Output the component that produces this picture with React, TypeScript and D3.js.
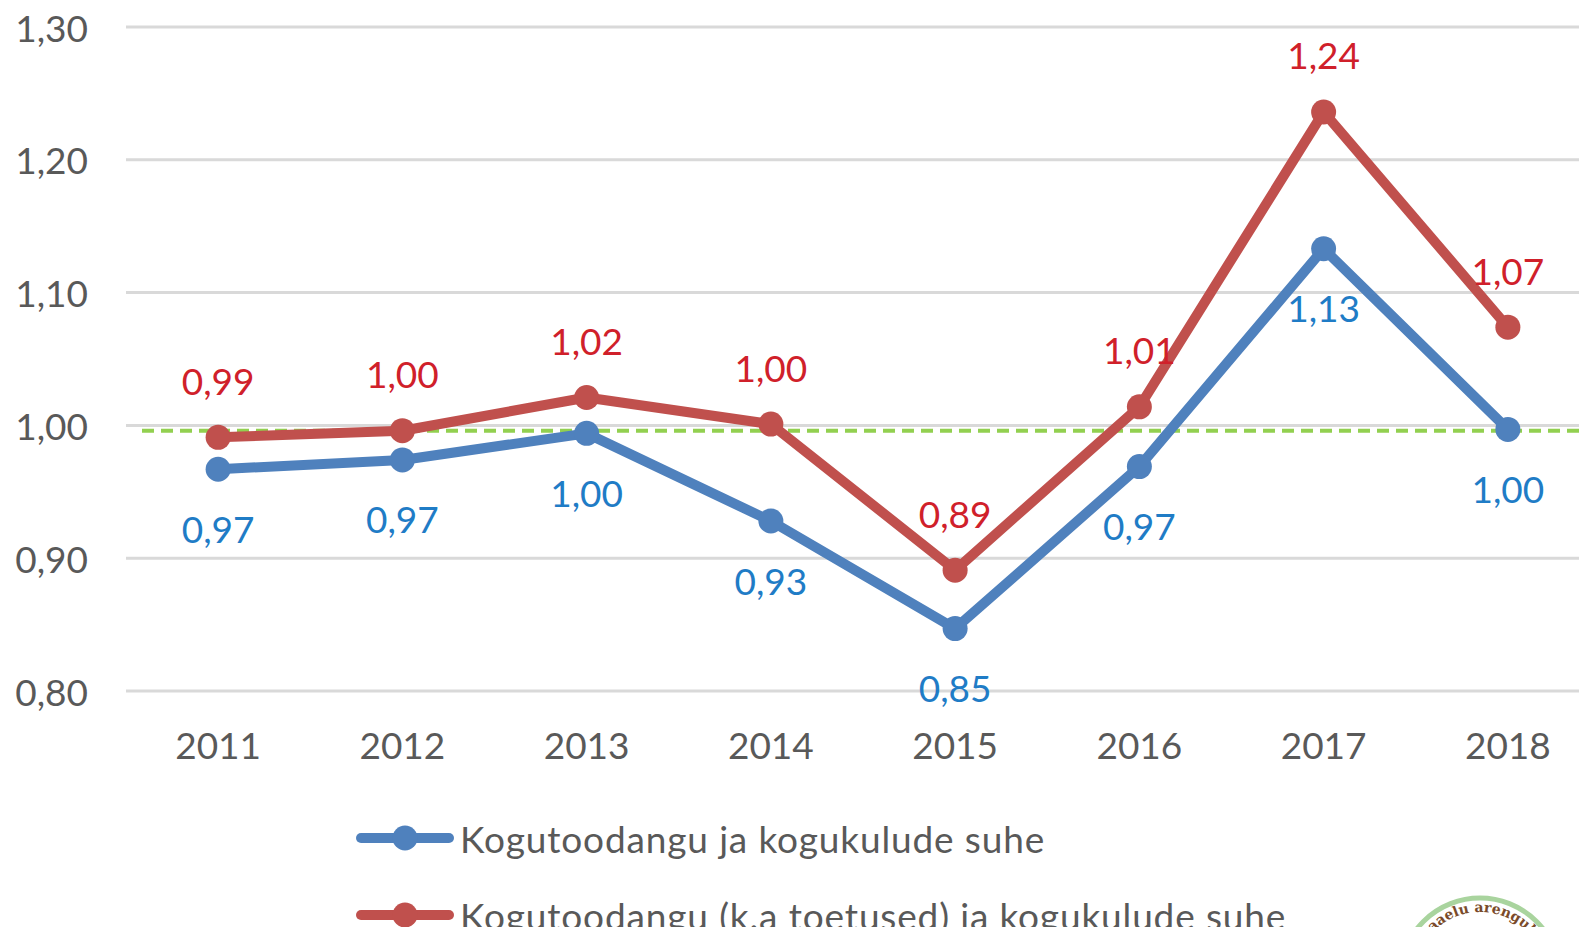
import React from "react";
import * as d3 from "d3";

const years = ["2011", "2012", "2013", "2014", "2015", "2016", "2017", "2018"];
const seriesBlue = [0.967, 0.974, 0.994, 0.928, 0.847, 0.969, 1.133, 0.997];
const seriesRed = [0.991, 0.996, 1.021, 1.001, 0.891, 1.014, 1.236, 1.074];
const labelsBlue = ["0,97", "0,97", "1,00", "0,93", "0,85", "0,97", "1,13", "1,00"];
const labelsRed = ["0,99", "1,00", "1,02", "1,00", "0,89", "1,01", "1,24", "1,07"];
const yTicks = [0.8, 0.9, 1.0, 1.1, 1.2, 1.3];
const yTickLabels = ["0,80", "0,90", "1,00", "1,10", "1,20", "1,30"];
const referenceValue = 0.996;
const legendNames = [
  "Kogutoodangu ja kogukulude suhe",
  "Kogutoodangu (k.a toetused) ja kogukulude suhe",
];

const W = 1587;
const H = 935;
const FONT = "Lato, 'Open Sans', sans-serif";
const BLUE = "#4F81BD";
const RED = "#C0504D";
const BLUE_TXT = "#1F7CC6";
const RED_TXT = "#D0202A";
const AXIS_TXT = "#595959";

export default function App() {
  const x = d3.scaleBand<string>().domain(years).range([126, 1600]);
  const y = d3.scaleLinear().domain([0.8, 1.3]).range([691, 27]);
  const cx = (yr: string) => (x(yr) as number) + x.bandwidth() / 2;
  const line = d3
    .line<number>()
    .x((_, i) => cx(years[i]))
    .y((d) => y(d));

  const series = [
    { vals: seriesBlue, labels: labelsBlue, color: BLUE, txt: BLUE_TXT, dy: 59 },
    { vals: seriesRed, labels: labelsRed, color: RED, txt: RED_TXT, dy: -57 },
  ];

  const logoCx = 1480;
  const logoCy = 978;
  const logoR = 80;
  const arcR = 66;
  const arcPath = d3.arc()({
    innerRadius: arcR,
    outerRadius: arcR,
    startAngle: -1.2,
    endAngle: 1.2,
  } as any) as string;

  return (
    <div style={{ margin: -8 }}>
      <svg width={W} height={H} style={{ display: "block", background: "#fff" }}>
        {yTicks.map((t, i) => (
          <g key={t}>
            <line x1={126} x2={W} y1={y(t)} y2={y(t)} stroke="#D9D9D9" strokeWidth={3} />
            <text
              x={88}
              y={y(t)}
              textAnchor="end"
              dominantBaseline="central"
              fontFamily={FONT}
              fontSize={37}
              fill={AXIS_TXT}
            >
              {yTickLabels[i]}
            </text>
          </g>
        ))}
        {years.map((yr) => (
          <text
            key={yr}
            x={cx(yr)}
            y={744}
            textAnchor="middle"
            dominantBaseline="central"
            fontFamily={FONT}
            fontSize={37}
            fill={AXIS_TXT}
          >
            {yr}
          </text>
        ))}
        <line
          x1={142}
          x2={W}
          y1={y(referenceValue)}
          y2={y(referenceValue)}
          stroke="#92D050"
          strokeWidth={4}
          strokeDasharray="12 7"
        />
        {series.map((s, si) => (
          <g key={si}>
            <path d={line(s.vals) as string} fill="none" stroke={s.color} strokeWidth={10} strokeLinejoin="round" />
            {s.vals.map((v, i) => (
              <circle key={i} cx={cx(years[i])} cy={y(v)} r={12.5} fill={s.color} />
            ))}
          </g>
        ))}
        {series.map((s, si) => (
          <g key={"l" + si}>
            {s.vals.map((v, i) => (
              <text
                key={i}
                x={cx(years[i])}
                y={y(v) + s.dy}
                textAnchor="middle"
                dominantBaseline="central"
                fontFamily={FONT}
                fontSize={37}
                fill={s.txt}
              >
                {s.labels[i]}
              </text>
            ))}
          </g>
        ))}
        {legendNames.map((name, i) => {
          const ly = 838 + i * 77;
          const col = i === 0 ? BLUE : RED;
          return (
            <g key={name}>
              <line x1={361} x2={449} y1={ly} y2={ly} stroke={col} strokeWidth={10} strokeLinecap="round" />
              <circle cx={405} cy={ly} r={12.5} fill={col} />
              <text
                x={460}
                y={ly}
                dominantBaseline="central"
                fontFamily={FONT}
                fontSize={37}
                letterSpacing={0.85}
                fill={AXIS_TXT}
              >
                {name}
              </text>
            </g>
          );
        })}
        <g transform={`translate(${logoCx},${logoCy})`}>
          <circle r={logoR} fill="#fff" stroke="#A9D49E" strokeWidth={5} />
          <path id="logoArc" d={arcPath} fill="none" stroke="none" />
          <text fontFamily="'DejaVu Serif', serif" fontSize={14} fontWeight="bold" fill="#7A4B2A">
            <textPath href="#logoArc" startOffset="25%" textAnchor="middle">
              maaelu arenguks
            </textPath>
          </text>
          <ellipse cx={-8} cy={-40} rx={7} ry={5} fill="#5BA33B" transform="rotate(-30 -8 -40)" />
          <ellipse cx={6} cy={-44} rx={8} ry={5} fill="#6DB34A" transform="rotate(20 6 -44)" />
        </g>
      </svg>
    </div>
  );
}
